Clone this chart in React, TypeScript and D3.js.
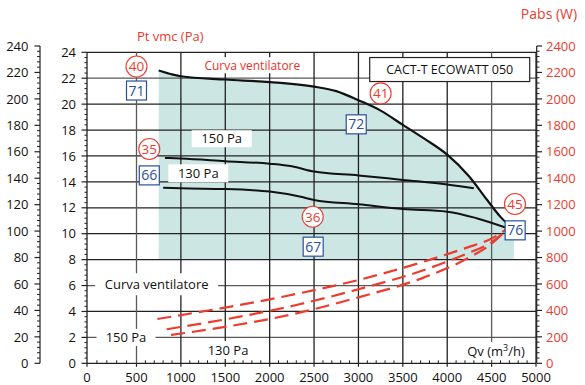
import React from "react";
import * as d3 from "d3";

// ---- data ----
const xTicks = [0, 500, 1000, 1500, 2000, 2500, 3000, 3500, 4000, 4500, 5000];
const innerTicks = [0, 2, 4, 6, 8, 10, 12, 14, 16, 18, 20, 22, 24];
const outerTicks = [0, 20, 40, 60, 80, 100, 120, 140, 160, 180, 200, 220, 240];
const wattTicks = [0, 200, 400, 600, 800, 1000, 1200, 1400, 1600, 1800, 2000, 2200, 2400];

// fan curve (Pt vmc Pa, inner scale)
const fanCurve: [number, number][] = [
  [750, 22.6], [900, 22.3], [1000, 22.15], [1500, 21.9], [2000, 21.7], [2500, 21.35],
  [2750, 21.0], [3000, 20.3], [3250, 19.5], [3500, 18.4], [3750, 17.3], [4000, 16.1],
  [4250, 14.4], [4450, 12.6], [4600, 11.3], [4720, 10.5],
];
const curve150: [number, number][] = [
  [820, 15.85], [1000, 15.8], [1500, 15.6], [2000, 15.4], [2250, 15.2], [2500, 14.8],
  [3000, 14.5], [3500, 14.15], [4000, 13.8], [4300, 13.5],
];
const curve130: [number, number][] = [
  [800, 13.55], [1000, 13.5], [1500, 13.45], [2000, 13.25], [2350, 12.85], [2500, 12.6],
  [3000, 12.27], [3500, 11.9], [4000, 11.7], [4330, 11.2], [4690, 10.4],
];
// power curves (W)
const powerTop: [number, number][] = [
  [735, 335], [2230, 515], [3000, 630], [3740, 770], [4230, 877], [4490, 940], [4690, 1025],
];
const powerMid: [number, number][] = [
  [840, 257], [2300, 441], [3000, 560], [3740, 706], [4230, 832], [4500, 915], [4690, 1025],
];
const powerBot: [number, number][] = [
  [890, 214], [2300, 378], [3000, 499], [3740, 650], [4230, 794], [4500, 905], [4690, 1025],
];
const fillRange = [750, 4750];
const fillFloor = 8;

// annotations (x in m3/h, y in inner Pa scale)
const circles: [string, number, number][] = [
  ["40", 500, 22.9], ["35", 644, 16.54], ["41", 3250, 20.83], ["36", 2485, 11.31], ["45", 4763, 12.29],
];
const boxes: [string, number, number][] = [
  ["71", 500, 21.05], ["66", 644, 14.5], ["72", 2975, 18.44], ["67", 2490, 9.0], ["76", 4765, 10.26],
];
// [text, x, y, boxWidth, boxHeight, color]
const labels: [string, number, number, number, number, string][] = [
  ["150 Pa", 1460, 17.33, 60, 17, "#111"],
  ["130 Pa", 1196, 14.66, 60, 18, "#111"],
  ["Curva ventilatore", 1805, 23.0, 104, 16, "#e8322b"],
  ["Curva ventilatore", 727, 6.1, 123, 22, "#111"],
  ["150 Pa", 394, 2.0, 59, 17, "#111"],
  ["130 Pa", 1531, 1.03, 44, 18, "#111"],
];

const RED = "#ec3b2f";
const BLUE = "#2a4f9c";
const FILL = "#cce6e3";

export default function App() {
  const x = d3.scaleLinear().domain([0, 500, 5000]).range([87, 136.5, 536]);
  const yIn = d3.scaleLinear().domain([0, 24]).range([363.3, 52.3]);
  const yOut = d3.scaleLinear().domain([0, 240]).range([363.3, 46]);
  const yW = d3.scaleLinear().domain([0, 2400]).range([363.3, 46]);

  const lineIn = d3.line<[number, number]>().x(d => x(d[0])).y(d => yIn(d[1])).curve(d3.curveMonotoneX);
  const lineW = d3.line<[number, number]>().x(d => x(d[0])).y(d => yW(d[1])).curve(d3.curveMonotoneX);

  const last = fanCurve[fanCurve.length - 1];
  const area = d3.area<[number, number]>().x(d => x(d[0])).y0(yIn(fillFloor)).y1(d => yIn(d[1])).curve(d3.curveMonotoneX);
  const fillTop: [number, number][] = [...fanCurve, [fillRange[1], last[1]]];

  const grey = new Set([500, 4500]);
  const greyH = new Set([2, 6, 22]);
  const font = "'Open Sans', 'DejaVu Sans', sans-serif";

  const minorX = d3.range(0, 5001, 100).filter(v => v % 500 !== 0);
  const minorIn = d3.range(0, 24.01, 0.4).filter(v => Math.abs(v / 2 - Math.round(v / 2)) > 0.01);
  const minorOut = d3.range(0, 240.1, 4).filter(v => v % 20 !== 0);
  const minorW = d3.range(0, 2401, 40).filter(v => v % 200 !== 0);

  return (
    <svg width={585} height={385} style={{ position: "absolute", left: 0, top: 0, background: "#fff" }} fontFamily={font}>
      <rect x={0} y={0} width={585} height={385} fill="#fff" />
      {/* fill */}
      <path d={area(fillTop) || ""} fill={FILL} />
      {/* grid */}
      {innerTicks.map(v => (
        <line key={"h" + v} x1={x(0)} x2={x(5000)} y1={yIn(v)} y2={yIn(v)}
          stroke={greyH.has(v) ? "#5a5a5a" : "#222"} strokeWidth={1.3} />
      ))}
      {xTicks.map(v => (
        <line key={"v" + v} x1={x(v)} x2={x(v)} y1={yIn(0)} y2={yIn(24)}
          stroke={grey.has(v) ? "#5a5a5a" : "#222"} strokeWidth={1.3} />
      ))}
      {/* x axis ticks */}
      {xTicks.map(v => (
        <g key={"xt" + v}>
          <line x1={x(v)} x2={x(v)} y1={yIn(0)} y2={yIn(0) + 3.5} stroke="#222" strokeWidth={1.2} />
          <text x={x(v)} y={381.5} fontSize={13} textAnchor="middle" fill="#111">{v}</text>
        </g>
      ))}
      {minorX.map(v => (
        <line key={"xm" + v} x1={x(v)} x2={x(v)} y1={yIn(0)} y2={yIn(0) - 3} stroke="#222" strokeWidth={1} />
      ))}
      {/* inner y axis */}
      {innerTicks.map(v => (
        <g key={"it" + v}>
          <line x1={x(0) - 5.5} x2={x(0)} y1={yIn(v)} y2={yIn(v)} stroke="#222" strokeWidth={1.2} />
          <text x={76} y={yIn(v)} dy="0.36em" fontSize={13} textAnchor="end" fill="#111">{v}</text>
        </g>
      ))}
      {minorIn.map(v => (
        <line key={"im" + v} x1={x(0) - 2.5} x2={x(0)} y1={yIn(v)} y2={yIn(v)} stroke="#222" strokeWidth={1} />
      ))}
      {/* outer left axis */}
      <line x1={40} x2={40} y1={yOut(0)} y2={yOut(240)} stroke="#222" strokeWidth={1.2} />
      {outerTicks.map(v => (
        <g key={"ot" + v}>
          <line x1={34.5} x2={40} y1={yOut(v)} y2={yOut(v)} stroke="#222" strokeWidth={1.2} />
          <text x={28.5} y={yOut(v)} dy="0.36em" fontSize={13} textAnchor="end" fill="#111">{v}</text>
        </g>
      ))}
      {minorOut.map(v => (
        <line key={"om" + v} x1={37} x2={40} y1={yOut(v)} y2={yOut(v)} stroke="#222" strokeWidth={1} />
      ))}
      {/* right axis */}
      <line x1={536.7} x2={536.7} y1={yW(0)} y2={yW(2400)} stroke="#222" strokeWidth={1.2} />
      {wattTicks.map(v => (
        <g key={"wt" + v}>
          <line x1={536.7} x2={542} y1={yW(v)} y2={yW(v)} stroke="#222" strokeWidth={1.2} />
          <text x={546} y={yW(v)} dy="0.36em" fontSize={13} textAnchor="start" fill={RED}>{v}</text>
        </g>
      ))}
      {minorW.map(v => (
        <line key={"wm" + v} x1={536.7} x2={539.5} y1={yW(v)} y2={yW(v)} stroke="#222" strokeWidth={1} />
      ))}
      {/* curves */}
      <path d={lineIn(fanCurve) || ""} fill="none" stroke="#111" strokeWidth={2.2} />
      <path d={lineIn(curve150) || ""} fill="none" stroke="#111" strokeWidth={2} />
      <path d={lineIn(curve130) || ""} fill="none" stroke="#111" strokeWidth={2} />
      {[powerTop, powerMid, powerBot].map((p, i) => (
        <path key={"p" + i} d={lineW(p) || ""} fill="none" stroke={RED} strokeWidth={2.2} strokeDasharray="14 7" />
      ))}
      {/* labels with white backgrounds */}
      {labels.map(([t, lx, ly, w, h, c], i) => (
        <g key={"l" + i}>
          <rect x={x(lx) - w / 2} y={yIn(ly) - h / 2} width={w} height={h} fill="#fff" />
          <text x={x(lx)} y={yIn(ly)} dy="0.36em" fontSize={c === "#111" ? 13 : 12} textAnchor="middle" fill={c}>{t}</text>
        </g>
      ))}
      {/* Qv label */}
      <rect x={x(4549) - 31} y={yIn(0.96) - 9} width={62} height={18} fill="#fff" />
      <text x={x(4549)} y={yIn(0.96)} dy="0.36em" fontSize={13} textAnchor="middle" fill="#111">
        Qv (m<tspan dy="-5" fontSize={9}>3</tspan><tspan dy="5">/h)</tspan>
      </text>
      {/* title box */}
      <rect x={x(4028) - 80} y={yIn(22.67) - 12} width={160} height={24} fill="#fff" stroke="#222" strokeWidth={1.2} />
      <text x={x(4028)} y={yIn(22.67)} dy="0.36em" fontSize={12.5} textAnchor="middle" fill="#111">CACT-T ECOWATT 050</text>
      {/* axis titles */}
      <text x={x(880)} y={yIn(25.2)} dy="0.36em" fontSize={13} textAnchor="middle" fill={RED}>Pt vmc (Pa)</text>
      <text x={549} y={yW(2640)} dy="0.36em" fontSize={14} textAnchor="middle" fill={RED}>Pabs (W)</text>
      {/* circles */}
      {circles.map(([t, cx, cy], i) => (
        <g key={"c" + i}>
          <circle cx={x(cx)} cy={yIn(cy)} r={10.5} fill="#fff" stroke={RED} strokeWidth={1.1} />
          <text x={x(cx)} y={yIn(cy)} dy="0.36em" fontSize={13.5} textAnchor="middle" fill={RED}>{t}</text>
        </g>
      ))}
      {/* boxes */}
      {boxes.map(([t, bx, by], i) => (
        <g key={"b" + i}>
          <rect x={x(bx) - 10} y={yIn(by) - 9.5} width={20} height={19} fill="#fff" stroke={BLUE} strokeWidth={1.2} />
          <text x={x(bx)} y={yIn(by)} dy="0.36em" fontSize={14} textAnchor="middle" fill={BLUE}>{t}</text>
        </g>
      ))}
    </svg>
  );
}
